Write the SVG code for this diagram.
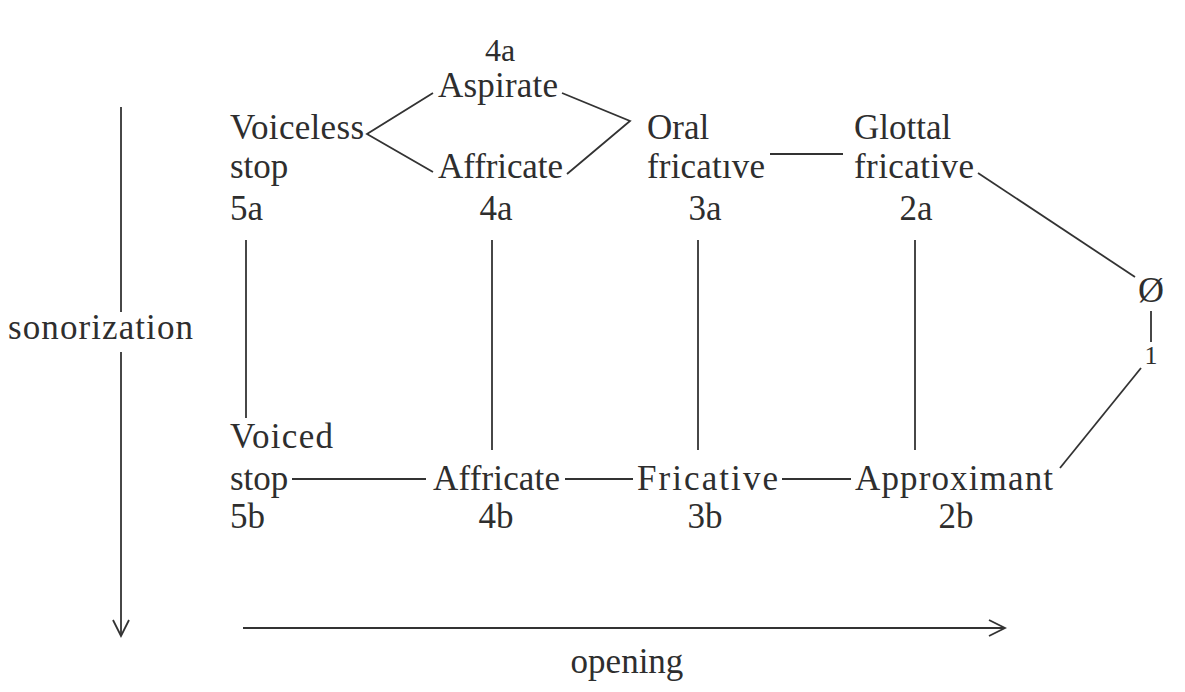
<svg xmlns="http://www.w3.org/2000/svg" width="1185" height="692" viewBox="0 0 1185 692">
<style>
text{font-family:"Liberation Serif","Times New Roman",serif;font-size:35px;fill:#2e2e2e}
.c{text-anchor:middle}
line,polyline{stroke:#333;stroke-width:1.8;fill:none}
</style>
<defs>
<marker id="ah" viewBox="0 0 20 20" refX="18" refY="10" markerWidth="20" markerHeight="20" markerUnits="userSpaceOnUse" orient="auto">
<polyline points="2,2 18,10 2,18" style="stroke:#333;stroke-width:1.8;fill:none"/>
</marker>
</defs>
<rect width="1185" height="692" fill="#fff"/>
<g id="axes">
<line x1="121" y1="107" x2="121" y2="312"/>
<line x1="121" y1="352" x2="121" y2="636" marker-end="url(#ah)"/>
<text x="8" y="339" textLength="185">sonorization</text>
<line x1="243" y1="628" x2="1005" y2="628" marker-end="url(#ah)"/>
<text x="627" y="673" class="c">opening</text>
</g>
<g id="connectors">
<polyline points="433,93 367,134 433,172"/>
<polyline points="562,93 630,121 567,174"/>
<line x1="770" y1="154" x2="843" y2="154"/>
<line x1="978" y1="173" x2="1135" y2="277"/>
<line x1="1151" y1="311" x2="1151" y2="342"/>
<line x1="1060" y1="468" x2="1141" y2="368"/>
<line x1="246" y1="240" x2="246" y2="418"/>
<line x1="492" y1="240" x2="492" y2="450"/>
<line x1="698" y1="240" x2="698" y2="450"/>
<line x1="915" y1="240" x2="915" y2="450"/>
<line x1="292" y1="479" x2="426" y2="479"/>
<line x1="565" y1="479" x2="633" y2="479"/>
<line x1="782" y1="479" x2="851" y2="479"/>
</g>
<g id="n5a"><text x="230" y="139" textLength="134">Voiceless</text><text x="230" y="178">stop</text><text x="230" y="220">5a</text></g>
<g id="n4a-asp"><text x="500" y="61" class="c" style="font-size:32px">4a</text><text x="438" y="97" textLength="120">Aspirate</text></g>
<g id="n4a-aff"><text x="438" y="178" textLength="125">Affricate</text><text x="496" y="220" class="c">4a</text></g>
<g id="n3a"><text x="647" y="139">Oral</text><text x="647" y="178" textLength="118">fricatıve</text><text x="705" y="220" class="c">3a</text></g>
<g id="n2a"><text x="854" y="139">Glottal</text><text x="854" y="178" textLength="120">fricative</text><text x="916" y="220" class="c">2a</text></g>
<g id="n0"><text x="1151" y="302" class="c" style="font-size:36px">Ø</text></g>
<g id="n1"><text x="1151" y="364" class="c" style="font-size:26px">1</text></g>
<g id="n5b"><text x="230" y="448" textLength="103">Voiced</text><text x="230" y="490">stop</text><text x="230" y="528">5b</text></g>
<g id="n4b"><text x="433" y="490" textLength="127">Affricate</text><text x="496" y="528" class="c">4b</text></g>
<g id="n3b"><text x="637" y="490" textLength="141">Fricative</text><text x="705" y="528" class="c">3b</text></g>
<g id="n2b"><text x="855" y="490" textLength="198">Approximant</text><text x="956" y="528" class="c">2b</text></g>
</svg>
